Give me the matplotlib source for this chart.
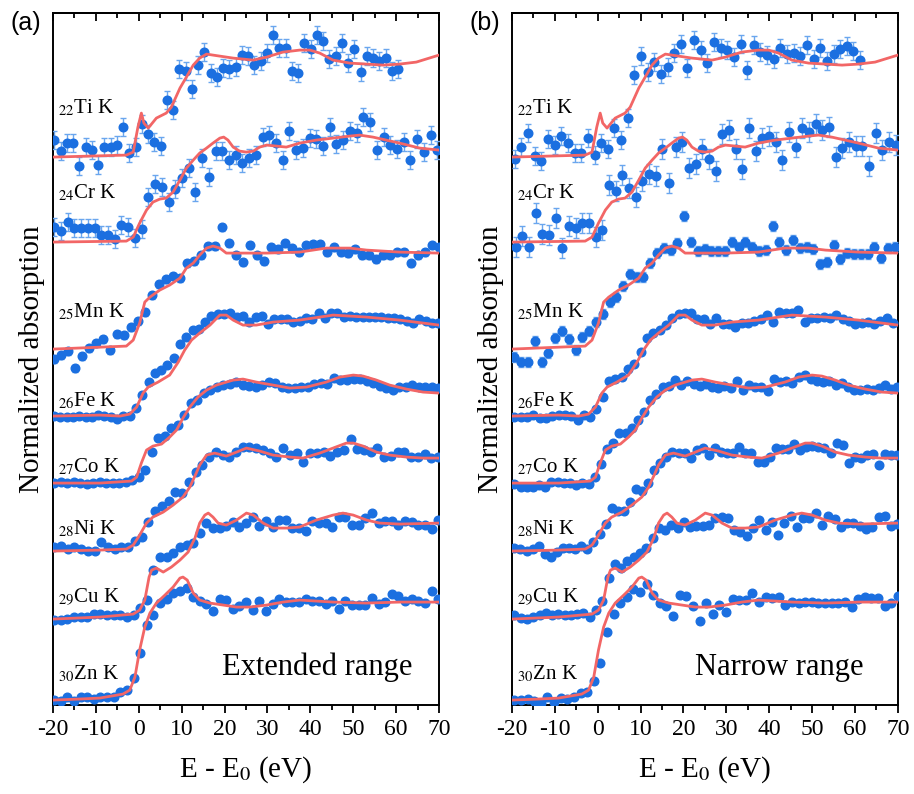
import matplotlib
matplotlib.use("Agg")
import matplotlib.pyplot as plt
import numpy as np

plt.rcParams['font.family'] = 'Liberation Serif'
plt.rcParams['mathtext.fontset'] = 'stix'
plt.rcParams['axes.unicode_minus'] = False

# reference curves (energy in eV, offset absorption), same in both panels
ti_ref_e = [-20, -2.9, -1.3, -0.2, 0.6, 1.2, 2.2, 4.1, 6.4, 7.6, 9.6, 11.1, 12.7, 14.2, 15.8, 17.3, 22.0, 26.7, 29.8, 33.6, 37.5, 39.9, 42.2, 45.3, 49.2, 53.1, 57.0, 60.8, 64.7, 70]
ti_ref_y = [5.48, 5.50, 5.53, 5.78, 5.92, 5.82, 5.77, 5.87, 5.92, 5.98, 6.17, 6.28, 6.40, 6.47, 6.51, 6.50, 6.47, 6.45, 6.48, 6.53, 6.55, 6.55, 6.52, 6.45, 6.42, 6.41, 6.40, 6.41, 6.43, 6.50]
cr_ref_e = [-20, -2.9, -1.3, 0.2, 1.8, 3.3, 4.9, 6.4, 8.0, 9.6, 11.1, 12.7, 14.2, 15.8, 17.3, 18.9, 19.8, 20.8, 22.0, 23.5, 25.1, 26.7, 28.2, 29.8, 32.1, 34.4, 37.5, 41.4, 45.3, 49.2, 51.5, 54.6, 57.7, 60.8, 65.5, 70]
cr_ref_y = [4.63, 4.64, 4.68, 4.82, 4.95, 5.03, 5.06, 5.07, 5.13, 5.25, 5.37, 5.45, 5.52, 5.57, 5.62, 5.67, 5.68, 5.65, 5.58, 5.54, 5.53, 5.54, 5.58, 5.60, 5.59, 5.58, 5.62, 5.65, 5.67, 5.69, 5.70, 5.68, 5.65, 5.62, 5.57, 5.55]
mn_ref_e = [-20, -2.9, -1.3, 0.2, 1.4, 2.6, 4.9, 7.2, 9.6, 11.1, 12.7, 14.2, 15.8, 17.3, 18.9, 20.4, 22.0, 29.8, 37.5, 43.7, 49.2, 53.1, 60.8, 70]
mn_ref_y = [3.56, 3.59, 3.65, 3.82, 4.03, 4.08, 4.15, 4.20, 4.27, 4.37, 4.42, 4.50, 4.57, 4.59, 4.57, 4.52, 4.52, 4.52, 4.53, 4.57, 4.57, 4.55, 4.53, 4.52]
fe_ref_e = [-20, -9.1, -4.4, -2.1, -0.5, 1.0, 2.2, 4.5, 7.2, 9.2, 10.7, 12.3, 14.2, 16.6, 18.9, 20.4, 22.0, 24.3, 27.4, 31.3, 37.5, 45.3, 53.1, 60.8, 70]
fe_ref_y = [2.89, 2.90, 2.89, 2.91, 2.98, 3.12, 3.18, 3.23, 3.30, 3.43, 3.55, 3.65, 3.72, 3.80, 3.90, 3.90, 3.85, 3.80, 3.80, 3.83, 3.85, 3.90, 3.88, 3.85, 3.80]
co_ref_e = [-20, -9.1, -1.7, -0.5, 0.6, 1.8, 3.3, 5.3, 7.2, 8.8, 10.3, 11.9, 13.8, 15.8, 18.1, 22.0, 24.3, 27.4, 31.3, 35.2, 39.1, 43.7, 46.9, 50.0, 52.3, 55.4, 58.5, 62.4, 66.3, 70]
co_ref_y = [2.22, 2.22, 2.24, 2.28, 2.42, 2.55, 2.59, 2.61, 2.68, 2.75, 2.87, 2.98, 3.08, 3.15, 3.20, 3.25, 3.26, 3.23, 3.20, 3.17, 3.18, 3.23, 3.28, 3.30, 3.29, 3.25, 3.20, 3.16, 3.13, 3.12]
ni_ref_e = [-20, -9.1, -2.9, -1.3, 0.2, 1.8, 3.3, 5.7, 8.0, 10.3, 11.9, 13.4, 14.2, 15.8, 17.7, 20.4, 22.8, 25.1, 28.2, 31.3, 35.2, 38.3, 42.2, 45.3, 48.4, 50.0, 52.3, 55.4, 58.5, 62.4, 66.3, 70]
ni_ref_y = [1.54, 1.55, 1.56, 1.60, 1.70, 1.82, 1.88, 1.93, 2.00, 2.08, 2.18, 2.32, 2.40, 2.50, 2.52, 2.49, 2.53, 2.57, 2.54, 2.50, 2.48, 2.47, 2.52, 2.57, 2.62, 2.62, 2.59, 2.53, 2.50, 2.48, 2.47, 2.47]
cu_ref_e = [-20, -9.1, -1.3, 0.2, 1.4, 2.4, 3.0, 4.1, 5.7, 7.6, 9.6, 11.5, 13.1, 14.2, 15.4, 16.2, 17.3, 18.5, 20.4, 22.8, 25.1, 26.7, 29.0, 31.3, 34.4, 37.5, 41.4, 45.3, 47.6, 50.0, 53.1, 56.2, 60.8, 70]
cu_ref_y = [0.86, 0.88, 0.91, 0.95, 1.05, 1.28, 1.35, 1.37, 1.33, 1.38, 1.45, 1.53, 1.67, 1.82, 1.90, 1.92, 1.88, 1.82, 1.80, 1.85, 1.92, 1.90, 1.82, 1.77, 1.77, 1.78, 1.85, 1.90, 1.92, 1.90, 1.85, 1.82, 1.81, 1.82]
zn_ref_e = [-20, -14, -9.1, -3.7, -2.1, -0.9, 0.2, 1.4, 2.6, 4.1, 6.1, 8.0, 9.6, 10.3, 11.3, 12.7, 14.2, 16.6, 19.7, 22.8, 25.9, 29.8, 33.6, 37.5, 41.4, 45.3, 53.1, 60.8, 70]
zn_ref_y = [0.05, 0.06, 0.07, 0.11, 0.15, 0.28, 0.55, 0.78, 0.92, 1.02, 1.10, 1.18, 1.27, 1.28, 1.25, 1.12, 1.05, 1.02, 1.00, 0.98, 0.98, 1.00, 1.03, 1.05, 1.04, 1.03, 1.02, 1.03, 1.03]

# measured points, panel (a) extended range
ti_a = [5.65, 5.54, 5.62, 5.62, 5.39, 5.58, 5.55, 5.40, 5.58, 5.58, 5.60, 5.78, 5.52, 5.58, 5.81, 5.71, 5.63, 5.59, 6.05, 5.95,
        6.36, 6.34, 6.16, 6.40, 6.53, 6.32, 6.28, 6.37, 6.36, 6.38, 6.50, 6.49, 6.40, 6.44, 6.52, 6.70, 6.57, 6.57, 6.34, 6.32,
        6.62, 6.56, 6.70, 6.64, 6.46, 6.49, 6.62, 6.42, 6.56, 6.33, 6.49, 6.47, 6.44, 6.47, 6.34, 6.36]
cr_a = [4.78, 4.74, 4.83, 4.77, 4.77, 4.77, 4.77, 4.70, 4.70, 4.66, 4.80, 4.78, 4.67, 4.76, 5.08, 5.21, 5.18, 5.03, 5.16, 5.27,
        5.37, 5.13, 5.47, 5.28, 5.54, 5.54, 5.45, 5.50, 5.42, 5.47, 5.50, 5.68, 5.70, 5.62, 5.45, 5.74, 5.55, 5.57, 5.67, 5.66,
        5.59, 5.78, 5.61, 5.65, 5.74, 5.72, 5.88, 5.83, 5.55, 5.68, 5.60, 5.56, 5.63, 5.45, 5.66, 5.53, 5.70, 5.55]
mn_a = [3.46, 3.50, 3.54, 3.37, 3.49, 3.57, 3.62, 3.66, 3.55, 3.71, 3.70, 3.78, 3.84, 3.93, 4.10, 4.21, 4.26, 4.29, 4.27, 4.42,
        4.44, 4.50, 4.59, 4.59, 4.78, 4.62, 4.50, 4.43, 4.60, 4.50, 4.44, 4.58, 4.56, 4.62, 4.57, 4.53, 4.60, 4.61, 4.61, 4.53,
        4.58, 4.53, 4.52, 4.56, 4.50, 4.50, 4.46, 4.50, 4.50, 4.53, 4.53, 4.42, 4.50, 4.53, 4.60, 4.58]
fe_a = [2.89, 2.88, 2.88, 2.88, 2.89, 2.88, 2.88, 2.90, 2.89, 2.88, 2.86, 2.89, 2.89, 2.97, 3.10, 3.23, 3.32, 3.35, 3.40, 3.47,
        3.61, 3.68, 3.75, 3.76, 3.83, 3.89, 3.91, 3.91, 3.92, 3.88, 3.89, 3.83, 3.88, 3.89, 3.81, 3.86, 3.86, 3.86, 3.83, 3.84,
        3.87, 3.86, 3.92, 3.87, 3.92, 3.92, 3.88, 3.89, 3.88, 3.88, 3.88, 3.88, 3.88, 3.87, 3.87, 3.86, 3.84, 3.82, 3.86, 3.84,
        3.82, 3.82]
co_a = [2.22, 2.23, 2.22, 2.23, 2.22, 2.21, 2.22, 2.23, 2.22, 2.22, 2.22, 2.23, 2.25, 2.28, 2.35, 2.53, 2.67, 2.69, 2.77, 2.80,
        2.90, 3.02, 3.05, 3.12, 3.15, 3.18, 3.20, 3.21, 3.23, 3.20, 3.19, 3.18, 3.20, 3.23, 3.22, 3.18, 3.17, 3.17, 3.18, 3.18,
        3.21, 3.22, 3.21, 3.27, 3.25, 3.25, 3.26, 3.26, 3.24, 3.22, 3.19, 3.17, 3.15, 3.18, 3.18, 3.20, 3.18, 3.18, 3.18, 3.17]
ni_a = [1.58, 1.59, 1.56, 1.58, 1.56, 1.54, 1.54, 1.63, 1.58, 1.56, 1.58, 1.58, 1.64, 1.68, 1.83, 1.94, 1.99, 2.04, 2.13, 2.12,
        2.23, 2.33, 2.40, 2.48, 2.53, 2.50, 2.48, 2.53, 2.58, 2.58, 2.57, 2.55, 2.52, 2.48, 2.57, 2.50, 2.52, 2.43, 2.52, 2.52,
        2.53, 2.49, 2.53, 2.55, 2.66, 2.56, 2.55, 2.53, 2.57, 2.48, 2.49, 2.53, 2.53, 2.48, 2.48, 2.51, 2.47, 2.48]
cu_a = [0.85, 0.85, 0.86, 0.88, 0.88, 0.88, 0.91, 0.91, 0.90, 0.90, 0.90, 0.88, 0.90, 0.97, 1.05, 1.35, 1.48, 1.48, 1.52, 1.58,
        1.60, 1.62, 1.72, 1.82, 1.77, 1.77, 1.79, 1.83, 1.78, 1.82, 1.88, 1.79, 1.84, 1.78, 1.85, 1.85, 1.77, 1.77, 1.74, 1.84,
        1.82, 1.82, 1.78, 1.88, 1.88, 1.80, 1.80, 1.87, 1.92, 1.82, 1.84, 1.84, 1.80, 1.84, 1.83, 1.80, 1.80, 1.76, 1.85]
zn_a = [0.05, 0.04, 0.08, 0.04, 0.08, 0.08, 0.06, 0.08, 0.08, 0.08, 0.13, 0.15, 0.27, 0.52, 0.80, 0.90, 1.02, 1.06, 1.12, 1.14,
        1.17, 1.08, 1.04, 1.01, 0.94, 1.06, 1.05, 0.96, 0.99, 1.03, 0.95, 1.04, 0.94, 1.01, 1.06, 1.03, 1.03, 1.03, 1.06, 1.04,
        1.04, 1.01, 1.04, 0.96, 1.04, 1.00, 1.00, 1.00, 1.07, 1.01, 1.03, 1.11, 1.09, 1.04, 1.06, 1.04, 1.02, 1.14, 1.06]

# measured points, panel (b) narrow range
ti_b = [5.46, 5.58, 5.72, 5.49, 5.44, 5.66, 5.60, 5.69, 5.62, 5.52, 5.52, 5.67, 5.50, 5.62, 5.56, 5.77, 5.65, 5.87, 6.30, 6.49,
        6.33, 6.43, 6.31, 6.38, 6.52, 6.61, 6.37, 6.65, 6.55, 6.42, 6.63, 6.57, 6.55, 6.48, 6.61, 6.35, 6.60, 6.53, 6.50, 6.46,
        6.57, 6.51, 6.52, 6.49, 6.60, 6.46, 6.57, 6.44, 6.51, 6.56, 6.59, 6.54, 6.45]
cr_b = [4.58, 4.69, 4.58, 4.92, 4.71, 4.70, 4.87, 4.57, 4.79, 4.77, 4.82, 4.82, 4.68, 4.75, 5.20, 5.14, 5.30, 5.17, 5.08, 5.24,
        5.31, 5.29, 5.56, 5.22, 5.58, 5.63, 5.37, 5.41, 5.56, 5.46, 5.34, 5.71, 5.75, 5.56, 5.36, 5.77, 5.54, 5.67, 5.69, 5.63,
        5.45, 5.73, 5.58, 5.77, 5.73, 5.81, 5.75, 5.78, 5.48, 5.57, 5.63, 5.59, 5.59, 5.39, 5.72, 5.55, 5.63, 5.60]
mn_b = [3.48, 3.43, 3.43, 3.64, 3.43, 3.52, 3.67, 3.74, 3.66, 3.55, 3.68, 3.74, 3.83, 3.91, 4.03, 4.08, 4.19, 4.31, 4.28, 4.28,
        4.42, 4.52, 4.57, 4.55, 4.62, 4.89, 4.63, 4.54, 4.56, 4.54, 4.54, 4.54, 4.63, 4.58, 4.63, 4.58, 4.54, 4.55, 4.79, 4.63,
        4.55, 4.65, 4.57, 4.58, 4.56, 4.41, 4.43, 4.60, 4.46, 4.52, 4.51, 4.51, 4.51, 4.58, 4.47, 4.57, 4.58]
fe_b = [2.88, 2.88, 2.88, 2.90, 2.87, 2.87, 2.89, 2.90, 2.90, 2.89, 2.85, 2.90, 2.88, 2.96, 3.08, 3.24, 3.26, 3.28, 3.36, 3.41,
        3.53, 3.67, 3.72, 3.75, 3.80, 3.87, 3.91, 3.92, 3.92, 3.86, 3.86, 3.81, 3.87, 3.81, 3.81, 3.78, 3.82, 3.82, 3.84, 3.86,
        3.90, 3.83, 3.93, 3.92, 3.92, 3.95, 3.83, 3.87, 3.87, 3.88, 3.87, 3.90, 3.86, 3.84, 3.81, 3.82, 3.83, 3.81, 3.84, 3.87,
        3.82]
co_b = [2.21, 2.18, 2.18, 2.18, 2.20, 2.18, 2.23, 2.23, 2.22, 2.22, 2.20, 2.22, 2.21, 2.28, 2.41, 2.56, 2.62, 2.72, 2.72, 2.77,
        2.85, 2.93, 3.05, 3.11, 3.18, 3.19, 3.25, 3.20, 3.24, 3.21, 3.19, 3.21, 3.18, 3.17, 3.19, 3.17, 3.24, 3.15, 3.20, 3.18,
        3.18, 3.14, 3.26, 3.23, 3.24, 3.22, 3.28, 3.30, 3.26, 3.24, 3.23, 3.24, 3.20, 3.22, 3.18, 3.15, 3.15, 3.16, 3.15, 3.17,
        3.20, 3.16, 3.18]
ni_b = [1.57, 1.56, 1.54, 1.56, 1.59, 1.51, 1.48, 1.53, 1.57, 1.57, 1.56, 1.59, 1.56, 1.63, 1.71, 1.81, 1.97, 1.94, 1.94, 2.03,
        2.16, 2.14, 2.22, 2.35, 2.42, 2.48, 2.53, 2.52, 2.52, 2.47, 2.55, 2.57, 2.50, 2.57, 2.53, 2.52, 2.52, 2.58, 2.52, 2.52,
        2.43, 2.43, 2.48, 2.57, 2.56, 2.56, 2.61, 2.55, 2.58, 2.59, 2.58, 2.57, 2.52, 2.62, 2.60, 2.42, 2.48, 2.47, 2.50, 2.51,
        2.40, 2.51, 2.50, 2.50]
cu_b = [0.90, 0.87, 0.86, 0.88, 0.90, 0.92, 0.90, 0.91, 0.90, 0.90, 0.91, 0.92, 0.88, 0.95, 1.04, 1.27, 1.41, 1.37, 1.44, 1.48,
        1.52, 1.57, 1.67, 1.77, 1.75, 1.80, 1.77, 1.83, 1.78, 1.79, 1.79, 1.80, 1.87, 1.88, 1.87, 1.75, 1.73, 1.69, 1.77, 1.85,
        1.75, 1.83, 1.70, 1.82, 1.89, 1.78, 1.87, 1.87, 1.92, 1.80, 1.89, 1.86, 1.78, 1.82, 1.82, 1.79, 1.76, 1.78, 1.88, 1.89,
        1.79, 1.81]
zn_b = [0.05, 0.05, 0.06, 0.04, 0.02, 0.08, 0.03, 0.07, 0.06, 0.08, 0.12, 0.13, 0.24, 0.42, 0.73, 0.91, 1.02, 1.08, 1.16, 1.13,
        1.21, 1.10, 1.02, 0.99, 0.89, 1.10, 1.09, 0.99, 0.84, 1.02, 0.91, 1.00, 0.93, 1.06, 1.05, 1.05, 1.12, 1.03, 1.08, 1.07,
        1.08, 1.00, 1.03, 1.02, 1.03, 1.03, 1.02, 1.02, 1.02, 1.02, 1.03, 0.98, 1.06, 1.08, 1.07, 1.07, 0.99, 1.02, 1.09]

# first and last energy of each measured scan
range_a = {'ti': (-19.7, 60.5), 'cr': (-19.7, 69.6), 'mn': (-19.7, 70.0), 'fe': (-19.75, 69.8),
           'co': (-19.75, 69.8), 'ni': (-19.75, 69.8), 'cu': (-19.75, 69.8), 'zn': (-19.75, 69.8)}
range_b = {'ti': (-19.3, 61.2), 'cr': (-19.1, 69.5), 'mn': (-19.4, 69.3), 'fe': (-19.4, 68.9),
           'co': (-19.4, 69.9), 'ni': (-19.4, 69.9), 'cu': (-19.4, 69.9), 'zn': (-19.4, 70.0)}
err_a = {'ti': 0.09, 'cr': 0.09, 'mn': 0.035, 'fe': 0.01, 'co': 0.01, 'ni': 0.01, 'cu': 0.01, 'zn': 0.01}
err_b = {'ti': 0.09, 'cr': 0.10, 'mn': 0.05, 'fe': 0.025, 'co': 0.025, 'ni': 0.025, 'cu': 0.025, 'zn': 0.025}

names = ['ti', 'cr', 'mn', 'fe', 'co', 'ni', 'cu', 'zn']
labels = [r'$_{22}$Ti K', r'$_{24}$Cr K', r'$_{25}$Mn K', r'$_{26}$Fe K',
          r'$_{27}$Co K', r'$_{28}$Ni K', r'$_{29}$Cu K', r'$_{30}$Zn K']
label_y = [5.92, 5.07, 3.88, 2.99, 2.33, 1.71, 1.04, 0.26]

refs = {'ti': (ti_ref_e, ti_ref_y), 'cr': (cr_ref_e, cr_ref_y), 'mn': (mn_ref_e, mn_ref_y),
        'fe': (fe_ref_e, fe_ref_y), 'co': (co_ref_e, co_ref_y), 'ni': (ni_ref_e, ni_ref_y),
        'cu': (cu_ref_e, cu_ref_y), 'zn': (zn_ref_e, zn_ref_y)}
meas_a = {'ti': ti_a, 'cr': cr_a, 'mn': mn_a, 'fe': fe_a, 'co': co_a, 'ni': ni_a, 'cu': cu_a, 'zn': zn_a}
meas_b = {'ti': ti_b, 'cr': cr_b, 'mn': mn_b, 'fe': fe_b, 'co': co_b, 'ni': ni_b, 'cu': cu_b, 'zn': zn_b}

dot_color = '#1b6fe0'
bar_color = '#6aa6ee'
line_color = '#f26666'

fig = plt.figure(figsize=(9.14, 7.94), dpi=100)
ax_a = fig.add_axes([0.058, 0.112, 0.4223, 0.8715])
ax_b = fig.add_axes([0.560, 0.112, 0.4223, 0.8715])


def draw_panel(ax, meas, ranges, errs, text, text_x):
    for name, lab, ly in zip(names, labels, label_y):
        e_ref, y_ref = refs[name]
        ax.plot(e_ref, y_ref, color=line_color, lw=2.0, zorder=4)
        vals = meas[name]
        e = np.linspace(ranges[name][0], ranges[name][1], len(vals))
        ax.errorbar(e, vals, yerr=errs[name], fmt='o', ms=6.2, color=dot_color,
                    ecolor=bar_color, elinewidth=1.0, capsize=2, capthick=1.0, zorder=3)
        ax.text(-18.9, ly, lab, fontsize=15, va='baseline', ha='left')
    ax.text(text_x, 0.30, text, fontsize=22, va='baseline', ha='left')

    ax.set_xlim(-20, 70)
    ax.set_ylim(0, 6.92)
    ax.set_xticks(np.arange(-20, 71, 10))
    ax.set_xticks(np.arange(-15, 70, 10), minor=True)
    ax.set_yticks([])
    ax.tick_params(axis='x', which='major', direction='out', length=6, width=1.3, labelsize=17, pad=4)
    ax.tick_params(axis='x', which='minor', direction='out', length=3.5, width=1.3)
    top = ax.secondary_xaxis('top')
    top.set_xticks(np.arange(-20, 71, 10))
    top.set_xticks(np.arange(-15, 70, 10), minor=True)
    top.tick_params(axis='x', which='major', direction='in', length=6, width=1.3, labeltop=False)
    top.tick_params(axis='x', which='minor', direction='in', length=3.5, width=1.3)
    for sp in list(ax.spines.values()) + [top.spines['top']]:
        sp.set_linewidth(1.4)
    ax.set_xlabel(r'E - E$_0$ (eV)', fontsize=21, labelpad=10)
    ax.set_ylabel('Normalized absorption', fontsize=21, labelpad=6)


draw_panel(ax_a, meas_a, range_a, err_a, 'Extended range', 19.3)
draw_panel(ax_b, meas_b, range_b, err_b, 'Narrow range', 22.7)

fig.text(0.011, 0.971, '(a)', family='Liberation Sans', fontsize=18, va='center', ha='left')
fig.text(0.514, 0.971, '(b)', family='Liberation Sans', fontsize=18, va='center', ha='left')

fig.savefig('out.png', dpi=100)
